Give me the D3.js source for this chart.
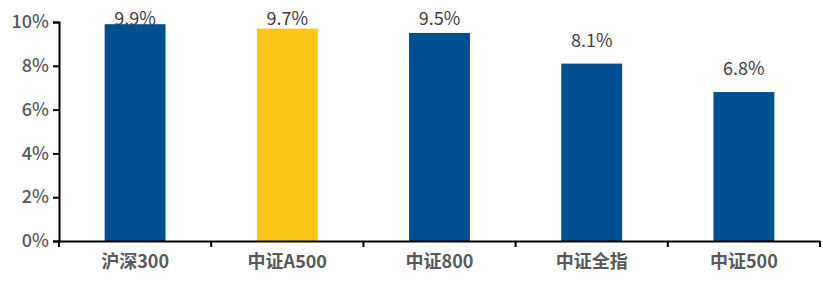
<!DOCTYPE html>
<html>
<head>
<meta charset="utf-8">
<script src="https://cdn.jsdelivr.net/npm/d3@7"></script>
<style>
body { margin: 0; background: #fff; }
text { font-family: "Noto Sans CJK SC", "Noto Sans", sans-serif; }
</style>
</head>
<body>
<div id="chart"></div>
<script>
// data
const categories = ["沪深300", "中证A500", "中证800", "中证全指", "中证500"];
const values = [9.9, 9.7, 9.5, 8.1, 6.8];
const yTicks = [0, 2, 4, 6, 8, 10];
const highlight = "中证A500";

const w = 823, h = 284;
const padL = 59, padR = 820, padT = 22, padB = 241;

const svg = d3.select("#chart").append("svg")
  .attr("width", w)
  .attr("height", h);

const xScale = d3.scaleBand()
  .domain(categories)
  .range([padL, padR])
  .padding(0);

const yScale = d3.scaleLinear()
  .domain([0, 10])
  .range([padB, padT]);

const barW = xScale.bandwidth() * 0.4;

// bars
svg.selectAll("rect.bar")
  .data(categories)
  .enter()
  .append("rect")
  .attr("class", "bar")
  .attr("x", d => xScale(d) + (xScale.bandwidth() - barW) / 2)
  .attr("y", (d, i) => yScale(values[i]))
  .attr("width", barW)
  .attr("height", (d, i) => padB - yScale(values[i]))
  .attr("fill", d => d === highlight ? "#FCC51A" : "#004F91");

// value labels, kept inside the top of the plot
svg.selectAll("text.val")
  .data(categories)
  .enter()
  .append("text")
  .attr("class", "val")
  .attr("x", d => xScale(d) + xScale.bandwidth() / 2)
  .attr("y", (d, i) => Math.max(yScale(values[i]) - 17, 25))
  .attr("text-anchor", "middle")
  .attr("font-size", 18)
  .attr("font-weight", 400)
  .attr("fill", "#404040")
  .text((d, i) => values[i].toFixed(1) + "%");

// y axis
const yAxis = d3.axisLeft(yScale)
  .tickValues(yTicks)
  .tickFormat(d => d + "%")
  .tickSize(6)
  .tickPadding(4);

const gy = svg.append("g")
  .attr("transform", "translate(" + padL + ",0)")
  .call(yAxis);
gy.select(".domain").attr("stroke", "#000").attr("stroke-width", 2);
gy.selectAll(".tick line").attr("stroke", "#000").attr("stroke-width", 2);
gy.selectAll(".tick text")
  .attr("font-size", 18)
  .attr("font-weight", 500)
  .attr("fill", "#595959")
  .attr("font-family", "'Noto Sans CJK SC', sans-serif");

// x axis, ticks at category borders
const xAxis = d3.axisBottom(xScale).tickSize(0).tickPadding(14);
const gx = svg.append("g")
  .attr("transform", "translate(0," + padB + ")")
  .call(xAxis);
gx.select(".domain").attr("stroke", "#000").attr("stroke-width", 2);
gx.selectAll(".tick text")
  .attr("font-size", 18)
  .attr("font-weight", "bold")
  .attr("fill", "#595959")
  .attr("font-family", "'Noto Sans CJK SC', sans-serif");

gx.selectAll("line.border")
  .data(categories.map(d => xScale(d)).concat([padR]))
  .enter()
  .append("line")
  .attr("class", "border")
  .attr("x1", d => d)
  .attr("x2", d => d)
  .attr("y1", 0)
  .attr("y2", 6)
  .attr("stroke", "#000")
  .attr("stroke-width", 2);
</script>
</body>
</html>
